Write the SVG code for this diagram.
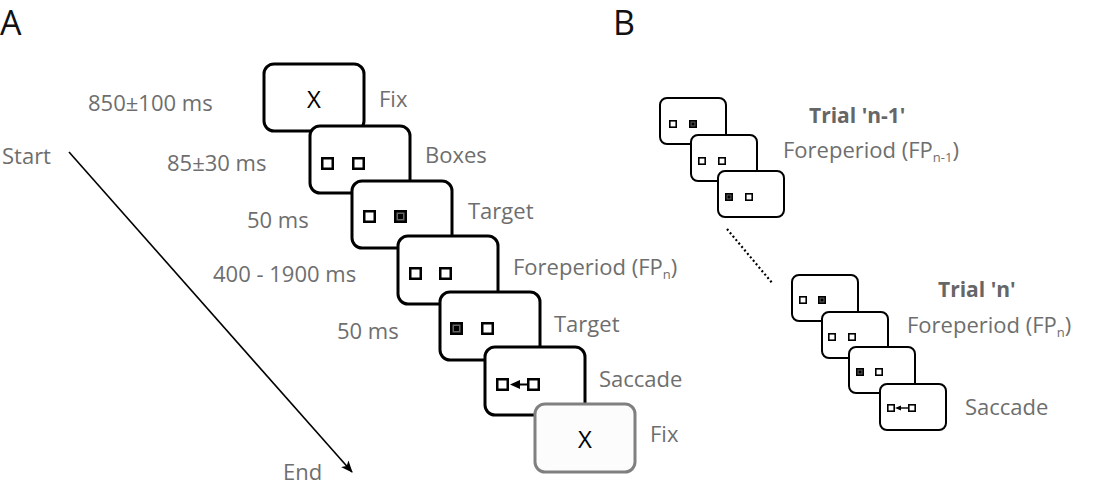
<svg xmlns="http://www.w3.org/2000/svg" width="1093" height="487" viewBox="0 0 1093 487">
<style>
text{font-family:"Open Sans","Noto Sans","DejaVu Sans",sans-serif;fill:#6e6e6e;font-size:22px}
.panel{font-size:34px;fill:#111}
.bold{font-weight:bold;fill:#666;font-size:21px}
.sub{font-size:13px}
.sa{fill:#fff;stroke:#000;stroke-width:3}
.sa7{fill:#fcfcfc;stroke:#808080;stroke-width:3}
.sb{fill:#fff;stroke:#000;stroke-width:2}
.qa{fill:#fff;stroke:#000;stroke-width:2.5}
.qat{fill:#666;stroke:#000;stroke-width:2.5}
.qb{fill:#fff;stroke:#000;stroke-width:1.6}
.qbt{fill:#666;stroke:#000;stroke-width:1.6}
.x{fill:#000;font-size:24px}
</style>
<defs>
<marker id="ah" viewBox="0 0 12 10" refX="11" refY="5" markerWidth="12" markerHeight="10" markerUnits="userSpaceOnUse" orient="auto">
<path d="M0,0 L12,5 L0,10 L3,5 Z" fill="#000"/>
</marker>
</defs>
<text class="panel" x="0" y="35">A</text>
<text class="panel" x="613" y="35">B</text>
<g id="connectors">
<line x1="69" y1="152" x2="352" y2="472" stroke="#000" stroke-width="1.6" marker-end="url(#ah)"/>
<line x1="727" y1="229" x2="773" y2="284" stroke="#000" stroke-width="2.2" stroke-dasharray="2 2.5"/>
</g>
<g id="timeline-labels">
<text x="2" y="164">Start</text>
<text x="283" y="480">End</text>
<text x="88" y="111">850±100 ms</text>
<text x="167" y="171">85±30 ms</text>
<text x="247" y="228">50 ms</text>
<text x="213" y="282">400 - 1900 ms</text>
<text x="337" y="339">50 ms</text>
</g>
<g id="a1">
<rect class="sa" x="264" y="64" width="100" height="67" rx="10"/>
<text class="x" x="314" y="108" text-anchor="middle">X</text>
<text x="379" y="107">Fix</text>
</g>
<g id="a2">
<rect class="sa" x="310" y="126" width="100" height="67" rx="10"/>
<rect class="qa" x="322.25" y="158.25" width="10.5" height="10.5"/>
<rect class="qa" x="353.25" y="158.25" width="10.5" height="10.5"/>
<text x="425" y="163">Boxes</text>
</g>
<g id="a3">
<rect class="sa" x="352" y="181" width="100" height="67" rx="10"/>
<rect class="qa" x="364.25" y="211.25" width="10.5" height="10.5"/>
<rect class="qat" x="395.25" y="211.25" width="10.5" height="10.5"/>
<rect x="398" y="214" width="5" height="5" fill="#000"/>
<text x="468" y="219">Target</text>
</g>
<g id="a4">
<rect class="sa" x="398" y="236" width="100" height="68" rx="10"/>
<rect class="qa" x="410.25" y="268.25" width="10.5" height="10.5"/>
<rect class="qa" x="440.25" y="268.25" width="10.5" height="10.5"/>
<text x="513" y="275">Foreperiod (FP<tspan class="sub" dy="4">n</tspan><tspan dy="-4">)</tspan></text>
</g>
<g id="a5">
<rect class="sa" x="440" y="292" width="100" height="68" rx="10"/>
<rect class="qat" x="451.25" y="323.25" width="10.5" height="10.5"/>
<rect x="454" y="326" width="5" height="5" fill="#000"/>
<rect class="qa" x="482.25" y="323.25" width="10.5" height="10.5"/>
<text x="554" y="332">Target</text>
</g>
<g id="a6">
<rect class="sa" x="485" y="347" width="100" height="68" rx="10"/>
<rect class="qa" x="497.25" y="379.25" width="10.5" height="10.5"/>
<rect class="qa" x="528.25" y="379.25" width="10.5" height="10.5"/>
<path d="M510,384.5 L520,380 L520,389 Z" fill="#000"/>
<line x1="519" y1="384.5" x2="527" y2="384.5" stroke="#000" stroke-width="2"/>
<text x="599" y="387">Saccade</text>
</g>
<g id="a7">
<rect class="sa7" x="535" y="404" width="100" height="68" rx="10"/>
<text class="x" x="585" y="448" text-anchor="middle">X</text>
<text x="650" y="442">Fix</text>
</g>
<g id="b1">
<rect class="sb" x="660" y="98" width="66" height="46" rx="7"/>
<rect class="qb" x="669.8" y="120.8" width="6.4" height="6.4"/>
<rect class="qbt" x="689.8" y="120.8" width="6.4" height="6.4"/>
<rect x="691.5" y="122.5" width="3" height="3" fill="#000"/>
</g>
<g id="b2">
<rect class="sb" x="691" y="135" width="66" height="46" rx="7"/>
<rect class="qb" x="698.8" y="157.8" width="6.4" height="6.4"/>
<rect class="qb" x="718.8" y="157.8" width="6.4" height="6.4"/>
</g>
<g id="b3">
<rect class="sb" x="718" y="171" width="66" height="46" rx="7"/>
<rect class="qbt" x="725.8" y="193.8" width="6.4" height="6.4"/>
<rect x="727.5" y="195.5" width="3" height="3" fill="#000"/>
<rect class="qb" x="745.8" y="193.8" width="6.4" height="6.4"/>
</g>
<g id="trial-n1-labels">
<text class="bold" x="809" y="123">Trial 'n-1'</text>
<text x="783" y="158">Foreperiod (FP<tspan class="sub" dy="4">n-1</tspan><tspan dy="-4">)</tspan></text>
</g>
<g id="b4">
<rect class="sb" x="792" y="275" width="66" height="46" rx="7"/>
<rect class="qb" x="799.8" y="296.8" width="6.4" height="6.4"/>
<rect class="qbt" x="818.8" y="296.8" width="6.4" height="6.4"/>
<rect x="820.5" y="298.5" width="3" height="3" fill="#000"/>
</g>
<g id="b5">
<rect class="sb" x="822" y="312" width="66" height="46" rx="7"/>
<rect class="qb" x="828.8" y="333.8" width="6.4" height="6.4"/>
<rect class="qb" x="848.8" y="333.8" width="6.4" height="6.4"/>
</g>
<g id="b6">
<rect class="sb" x="849" y="347" width="66" height="46" rx="7"/>
<rect class="qbt" x="856.8" y="368.8" width="6.4" height="6.4"/>
<rect x="858.5" y="370.5" width="3" height="3" fill="#000"/>
<rect class="qb" x="875.8" y="368.8" width="6.4" height="6.4"/>
</g>
<g id="b7">
<rect class="sb" x="880" y="384" width="66" height="46" rx="7"/>
<rect class="qb" x="887.8" y="404.8" width="6.4" height="6.4"/>
<rect class="qb" x="908.8" y="404.8" width="6.4" height="6.4"/>
<path d="M895,408 L901,405.5 L901,410.5 Z" fill="#000"/>
<line x1="900" y1="408" x2="908" y2="408" stroke="#000" stroke-width="1.4"/>
</g>
<g id="trial-n-labels">
<text class="bold" x="938" y="297">Trial 'n'</text>
<text x="907" y="333">Foreperiod (FP<tspan class="sub" dy="4">n</tspan><tspan dy="-4">)</tspan></text>
<text x="965" y="415">Saccade</text>
</g>
</svg>
